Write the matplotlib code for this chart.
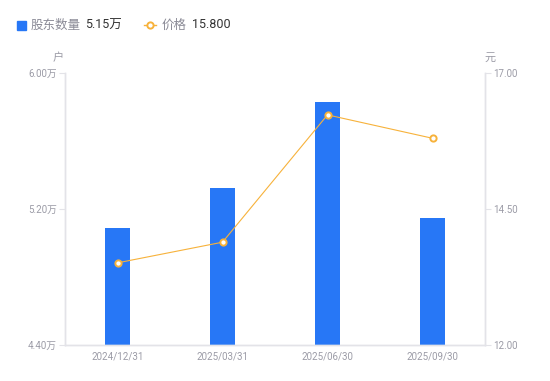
import matplotlib
matplotlib.use("Agg")
import matplotlib.pyplot as plt
from matplotlib.lines import Line2D
import numpy as np

plt.rcParams['font.family'] = ['Roboto', 'Noto Sans CJK SC', 'DejaVu Sans']

# datos
fechas = ["2024/12/31", "2025/03/31", "2025/06/30", "2025/09/30"]
accionistas = [5.088, 5.324, 5.828, 5.147]   # 万户
precios = [13.51, 13.89, 16.23, 15.80]       # 元
ticks_izq = [4.40, 5.20, 6.00]
ticks_der = [12.00, 14.50, 17.00]

AZUL = "#2777f6"
NARANJA = "#f7b23b"
GRIS = "#9b9ba6"
EJE = "#e3e3e8"

fig = plt.figure(figsize=(5.5, 3.81), dpi=100)
ax = fig.add_axes([65 / 550, 36 / 381, 420 / 550, 272 / 381])
ax2 = ax.twinx()

x = np.arange(len(fechas))
ax.bar(x, accionistas, width=0.24, color=AZUL, zorder=2)
ax.set_xlim(-0.5, len(fechas) - 0.5)
ax.set_ylim(ticks_izq[0], ticks_izq[-1])
ax.set_yticks(ticks_izq)
ax.set_yticklabels([f"{t:.2f}万" for t in ticks_izq])
ax.set_xticks(x)
ax.set_xticklabels(fechas)

ax2.plot(x, precios, color=NARANJA, lw=0.8, marker="o", markersize=4.5,
         markerfacecolor="white", markeredgecolor=NARANJA, markeredgewidth=1.4, zorder=3)
ax2.set_ylim(ticks_der[0], ticks_der[-1])
ax2.set_yticks(ticks_der)
ax2.set_yticklabels([f"{t:.2f}" for t in ticks_der])

for a in (ax, ax2):
    for s in a.spines.values():
        s.set_color(EJE)
        s.set_linewidth(1)
    a.spines["top"].set_visible(False)
    a.tick_params(axis="both", colors=GRIS, labelsize=7, length=4, width=0.8, pad=2)
    a.tick_params(axis="y", color=EJE)
ax.tick_params(axis="x", length=0, pad=5)
ax2.tick_params(axis="x", length=0)

# unidades de los ejes
fig.text(58 / 550, 1 - 58 / 381, "户", color=GRIS, fontsize=8, ha="center", va="center")
fig.text(490 / 550, 1 - 58 / 381, "元", color=GRIS, fontsize=8, ha="center", va="center")

# leyenda manual
ley_y = 1 - 25 / 381
fig.patches.append(plt.Rectangle((17 / 550, ley_y - 4.5 / 381), 9 / 550, 9 / 381,
                                 transform=fig.transFigure, color=AZUL, figure=fig))
fig.text(31 / 550, ley_y, "股东数量", color="#8a8a96", fontsize=9, va="center")
fig.text(85 / 550, ley_y, f"{accionistas[-1]:.2f}万", color="#333333",
         fontsize=9, va="center")
fig.lines.append(Line2D([144 / 550, 156 / 550], [ley_y, ley_y], transform=fig.transFigure,
                        color=NARANJA, lw=1))
fig.lines.append(Line2D([150 / 550], [ley_y], transform=fig.transFigure, marker="o", markersize=4.5,
                        markerfacecolor="white", markeredgecolor=NARANJA, markeredgewidth=1.4))
fig.text(162 / 550, ley_y, "价格", color="#8a8a96", fontsize=9, va="center")
fig.text(192 / 550, ley_y, f"{precios[-1]:.3f}", color="#333333", fontsize=9, va="center")

fig.savefig("out.png", dpi=100)
